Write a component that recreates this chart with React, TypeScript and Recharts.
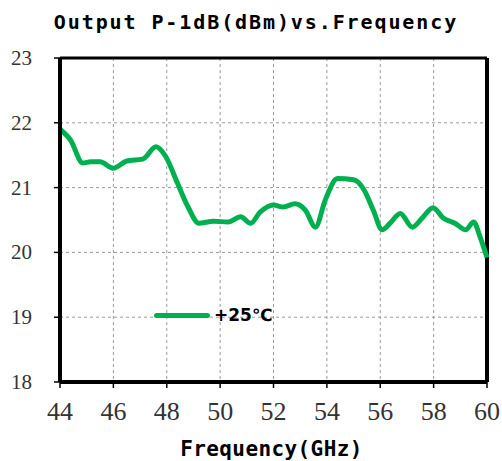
import { CartesianGrid, Line, LineChart, ReferenceLine, XAxis, YAxis } from "recharts";

const freqGHz = [
  44, 44.4, 44.85, 45.16, 45.5, 46.0, 46.5, 47.1, 47.6, 47.96, 48.4, 48.8, 49.2, 49.75,
  50.3, 50.77, 51.14, 51.5, 52.0, 52.37, 52.8, 53.2, 53.57, 53.94, 54.4, 55.0, 55.4,
  55.74, 56.07, 56.37, 56.75, 57.2, 57.57, 57.98, 58.36, 58.8, 59.2, 59.5, 59.74, 60,
];
const p1dB25 = [
  21.9, 21.73, 21.38, 21.4, 21.4, 21.3, 21.41, 21.44, 21.63, 21.48, 21.07, 20.7, 20.45,
  20.48, 20.47, 20.55, 20.45, 20.62, 20.73, 20.7, 20.75, 20.65, 20.39, 20.81, 21.14,
  21.12, 20.96, 20.65, 20.35, 20.45, 20.6, 20.39, 20.53, 20.69, 20.53, 20.45, 20.35,
  20.47, 20.24, 19.92,
];
const xTicks = [44, 46, 48, 50, 52, 54, 56, 58, 60];
const yTicks = [18, 19, 20, 21, 22, 23];

const rows = freqGHz.map((f, i) => ({ f, v: p1dB25[i] }));

const GREEN = "#00b050";
const mono = "DejaVu Sans Mono";
const serif = "Liberation Serif";

// tick labels drawn by hand so the serif face sticks
const renderXTick = (p: any) => (
  <text key={p.index} x={p.x} y={p.y + 30} textAnchor="middle" fontFamily={serif} fontSize={26} fill="#333">
    {p.payload.value}
  </text>
);

const renderYTick = (p: any) => (
  <text key={p.index} x={p.x - 20} y={p.y + 7} textAnchor="end" fontFamily={serif} fontSize={21} fill="#333">
    {p.payload.value}
  </text>
);

export default function App() {
  return (
    <div style={{ position: "absolute", left: 0, top: 0, width: 502, height: 461, background: "#fff" }}>
      <div
        style={{
          position: "absolute",
          left: 0,
          width: 512,
          top: 10,
          textAlign: "center",
          fontFamily: mono,
          fontWeight: 700,
          fontSize: 20,
          letterSpacing: 1.9,
          color: "#000",
          whiteSpace: "nowrap",
        }}
      >
        Output P-1dB(dBm)vs.Frequency
      </div>
      <LineChart width={502} height={461} data={rows} margin={{ top: 58, right: 15, bottom: 39, left: 0 }}>
        <CartesianGrid stroke="#9a9a9a" strokeDasharray="3 3" />
        <XAxis
          dataKey="f"
          type="number"
          domain={[44, 60]}
          ticks={xTicks}
          height={40}
          axisLine={{ stroke: "#000", strokeWidth: 4 }}
          tickLine={{ stroke: "#000", strokeWidth: 1.5 }}
          tickSize={6}
          tick={renderXTick}
          label={{
            value: "Frequency(GHz)",
            position: "insideBottom",
            offset: -34,
            dx: -2,
            style: { fontFamily: mono, fontWeight: 700, fontSize: 21, fill: "#000", letterSpacing: 0.4 },
          }}
        />
        <YAxis
          type="number"
          domain={[18, 23]}
          ticks={yTicks}
          width={60}
          axisLine={{ stroke: "#000", strokeWidth: 4 }}
          tickLine={{ stroke: "#000", strokeWidth: 1.5 }}
          tickSize={6}
          tick={renderYTick}
        />
        <ReferenceLine y={23} stroke="#000" strokeWidth={3} />
        <ReferenceLine x={60} stroke="#000" strokeWidth={4} />
        <Line
          dataKey="v"
          name="+25℃"
          type="monotone"
          stroke={GREEN}
          strokeWidth={5}
          dot={false}
          isAnimationActive={false}
        />
      </LineChart>
      <div style={{ position: "absolute", left: 154, top: 305, display: "flex", alignItems: "center" }}>
        <span style={{ width: 56, height: 5, borderRadius: 3, background: GREEN }} />
        <span
          style={{
            marginLeft: 4,
            fontFamily: "DejaVu Sans",
            fontWeight: 700,
            fontSize: 17,
            color: "#000",
          }}
        >
          +25℃
        </span>
      </div>
    </div>
  );
}
